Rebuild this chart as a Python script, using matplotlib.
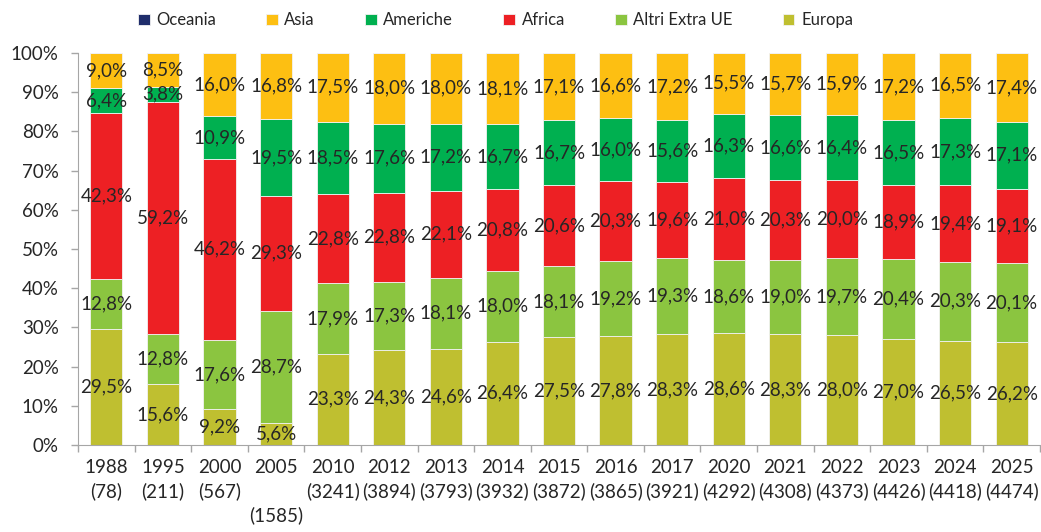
import matplotlib.pyplot as plt
import numpy as np

plt.rcParams['font.family'] = ['Lato', 'DejaVu Sans']

#%% Dati: composizione percentuale per area di provenienza
years = ['1988', '1995', '2000', '2005', '2010', '2012', '2013', '2014', '2015',
         '2016', '2017', '2020', '2021', '2022', '2023', '2024', '2025']
totals = ['78', '211', '567', '1585', '3241', '3894', '3793', '3932', '3872',
          '3865', '3921', '4292', '4308', '4373', '4426', '4418', '4474']

europa = [29.5, 15.6, 9.2, 5.6, 23.3, 24.3, 24.6, 26.4, 27.5, 27.8, 28.3, 28.6, 28.3, 28.0, 27.0, 26.5, 26.2]
altri_extra_ue = [12.8, 12.8, 17.6, 28.7, 17.9, 17.3, 18.1, 18.0, 18.1, 19.2, 19.3, 18.6, 19.0, 19.7, 20.4, 20.3, 20.1]
africa = [42.3, 59.2, 46.2, 29.3, 22.8, 22.8, 22.1, 20.8, 20.6, 20.3, 19.6, 21.0, 20.3, 20.0, 18.9, 19.4, 19.1]
americhe = [6.4, 3.8, 10.9, 19.5, 18.5, 17.6, 17.2, 16.7, 16.7, 16.0, 15.6, 16.3, 16.6, 16.4, 16.5, 17.3, 17.1]
asia = [9.0, 8.5, 16.0, 16.8, 17.5, 18.0, 18.0, 18.1, 17.1, 16.6, 17.2, 15.5, 15.7, 15.9, 17.2, 16.5, 17.4]
oceania = [0.0, 0.1, 0.1, 0.1, 0.0, 0.0, 0.0, 0.0, 0.0, 0.1, 0.0, 0.0, 0.1, 0.0, 0.0, 0.0, 0.1]

series = [('Europa', europa, '#BFBF30'),
          ('Altri Extra UE', altri_extra_ue, '#8BC540'),
          ('Africa', africa, '#ED2024'),
          ('Americhe', americhe, '#00B050'),
          ('Asia', asia, '#FDBF12'),
          ('Oceania', oceania, '#1F2D6B')]

labels = []
for y, t in zip(years, totals):
    if y == '2005':
        labels.append(y + '\n\n(' + t + ')')
    else:
        labels.append(y + '\n(' + t + ')')

txt = '#262626'
grey = '#A6A6A6'

fig = plt.figure(figsize=(10.41, 5.32), dpi=100)
ax = fig.add_axes([0.075, 0.1635, 0.924, 0.737])

x = np.arange(len(years))
bottom = np.zeros(len(years))
handles = {}
for name, vals, col in series:
    vals = np.array(vals)
    bars = ax.bar(x, vals, 0.57, bottom=bottom, color=col, edgecolor='#F2F2F2',
                  linewidth=0.6, label=name)
    handles[name] = bars
    if name != 'Oceania':
        for xi, b, v in zip(x, bottom, vals):
            ax.text(xi, b + v / 2, ('%.1f%%' % v).replace('.', ','),
                    ha='center', va='center', fontsize=13.5, color=txt)
    bottom = bottom + vals

ax.set_xlim(-0.5, len(years) - 0.5)
ax.set_ylim(0, 100)
ax.set_yticks(np.arange(0, 101, 10))
ax.set_yticklabels(['%d%%' % v for v in range(0, 101, 10)], fontsize=13.5, color=txt)
ax.set_xticks(x)
ax.set_xticklabels(labels, fontsize=13.5, color=txt, linespacing=1.45)
ax.set_xticks(np.arange(-0.5, len(years), 1), minor=True)
ax.tick_params(axis='x', which='major', length=0, pad=10)
ax.tick_params(axis='x', which='minor', length=5, color=grey, width=1)
ax.tick_params(axis='y', length=5, color=grey, width=1, pad=9)

for s in ['top', 'right']:
    ax.spines[s].set_visible(False)
ax.spines['left'].set_color(grey)
ax.spines['bottom'].set_color(grey)

order = ['Oceania', 'Asia', 'Americhe', 'Africa', 'Altri Extra UE', 'Europa']
fig.legend([handles[n] for n in order], order, loc='center', ncol=6,
           bbox_to_anchor=(0.476, 0.962), frameon=False, fontsize=12,
           handlelength=0.7, handleheight=0.7, handletextpad=0.4,
           columnspacing=3.0, labelcolor=txt)

plt.savefig('out.png', dpi=100)
